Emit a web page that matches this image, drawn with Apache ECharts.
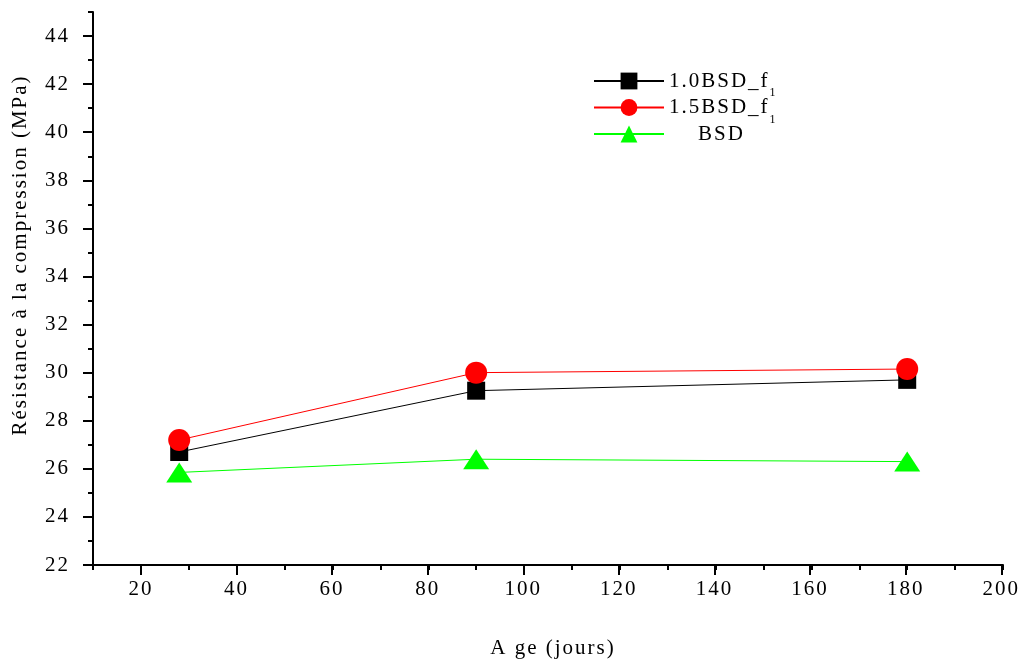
<!DOCTYPE html>
<html>
<head>
<meta charset="utf-8">
<script src="https://cdn.jsdelivr.net/npm/echarts@6/dist/echarts.min.js"></script>
<style>
  html, body { margin: 0; padding: 0; background: #ffffff; }
  #chart { width: 1023px; height: 659px; }
</style>
</head>
<body>
<div id="chart"></div>
<script>
// Compressive strength (MPa) by age (days)
const ages = [28, 90, 180];
const bsd10 = [26.7, 29.25, 29.7];
const bsd15 = [27.2, 30.0, 30.15];
const bsdRef = [25.85, 26.4, 26.3];
const seriesNames = ['1.0BSD_f1', '1.5BSD_f1', 'BSD'];
const xTitle = 'A ge (jours)';
const yTitle = 'Résistance à la compression (MPa)';

// Slight letter tracking for all canvas text (typewriter-like serif look)
(function () {
  const proto = CanvasRenderingContext2D.prototype;
  if (!('letterSpacing' in proto)) return;
  const fill = proto.fillText, measure = proto.measureText;
  proto.fillText = function () { this.letterSpacing = '2px'; return fill.apply(this, arguments); };
  proto.measureText = function () { this.letterSpacing = '2px'; return measure.apply(this, arguments); };
})();

const FONT = 'Liberation Serif';
const FS = 21;
const toPairs = vals => ages.map((a, i) => [a, vals[i]]);

const chart = echarts.init(document.getElementById('chart'), null, { renderer: 'canvas' });

const axisText = { color: '#000', fontFamily: FONT, fontSize: FS };

// one data unit in pixels along each axis of the plot area
const xUnit = (1023 - 93 - 20) / 190;
const yUnit = (659 - 12 - 94) / 23;

chart.setOption({
  animation: false,
  backgroundColor: '#ffffff',
  grid: [
    // plot area; minor (unit) ticks and axis lines
    { left: 93, right: 20, top: 12, bottom: 94 },
    // labelled major ticks, starting at x = 20 and ending at y = 44
    { left: 93 + 10 * xUnit, right: 20, top: 12 + yUnit, bottom: 94 }
  ],
  xAxis: [
    {
      gridIndex: 0, type: 'value', min: 10, max: 200, interval: 10,
      axisLine: { lineStyle: { color: '#000', width: 2 } },
      axisTick: { inside: false, length: 5, lineStyle: { color: '#000', width: 2 } },
      axisLabel: { show: false },
      splitLine: { show: false }
    },
    {
      gridIndex: 1, type: 'value', min: 20, max: 200, interval: 20,
      axisLine: { show: false },
      axisTick: { inside: false, length: 10, lineStyle: { color: '#000', width: 2 } },
      axisLabel: Object.assign({ margin: 13 }, axisText),
      splitLine: { show: false }
    }
  ],
  yAxis: [
    {
      gridIndex: 0, type: 'value', min: 22, max: 45, interval: 1,
      axisLine: { lineStyle: { color: '#000', width: 2 } },
      axisTick: { inside: false, length: 5, lineStyle: { color: '#000', width: 2 } },
      axisLabel: { show: false },
      splitLine: { show: false }
    },
    {
      gridIndex: 1, type: 'value', min: 22, max: 44, interval: 2,
      offset: 10 * xUnit,
      axisLine: { show: false },
      axisTick: { inside: false, length: 10, lineStyle: { color: '#000', width: 2 } },
      axisLabel: Object.assign({ margin: 23 }, axisText),
      splitLine: { show: false }
    }
  ],
  legend: {
    data: seriesNames,
    orient: 'vertical',
    left: 588,
    top: 62,
    itemWidth: 70,
    itemHeight: 21,
    itemGap: -6.5,
    formatter: name => name.endsWith('f1')
      ? '{t|' + name.slice(0, -1) + '}{s|1}'
      : '{t|    ' + name + '}{s| }',
    textStyle: {
      color: '#000',
      fontFamily: FONT,
      rich: {
        t: { fontFamily: FONT, fontSize: FS, lineHeight: 28, verticalAlign: 'middle', color: '#000' },
        s: { fontFamily: FONT, fontSize: 12, lineHeight: 9, padding: [19, 0, 0, 0], verticalAlign: 'top', color: '#000' }
      }
    }
  },
  graphic: [
    {
      type: 'text', x: 20, y: 255, rotation: Math.PI / 2,
      style: { text: yTitle, fontFamily: FONT, fontSize: FS, fill: '#000', align: 'center', verticalAlign: 'middle' }
    },
    {
      type: 'text', x: 553, y: 648,
      style: { text: xTitle, fontFamily: FONT, fontSize: FS, fill: '#000', align: 'center', verticalAlign: 'middle' }
    }
  ],
  series: [
    {
      name: seriesNames[2], type: 'line', xAxisIndex: 0, yAxisIndex: 0,
      data: toPairs(bsdRef),
      symbol: 'triangle', symbolSize: [26, 20],
      itemStyle: { color: '#00ff00' },
      lineStyle: { color: '#00ff00', width: 1 }
    },
    {
      name: seriesNames[0], type: 'line', xAxisIndex: 0, yAxisIndex: 0,
      data: toPairs(bsd10),
      symbol: 'rect', symbolSize: 18,
      itemStyle: { color: '#000000' },
      lineStyle: { color: '#000000', width: 1 }
    },
    {
      name: seriesNames[1], type: 'line', xAxisIndex: 0, yAxisIndex: 0,
      data: toPairs(bsd15),
      symbol: 'circle', symbolSize: 22,
      itemStyle: { color: '#ff0000' },
      lineStyle: { color: '#ff0000', width: 1 }
    }
  ]
});
</script>
</body>
</html>
